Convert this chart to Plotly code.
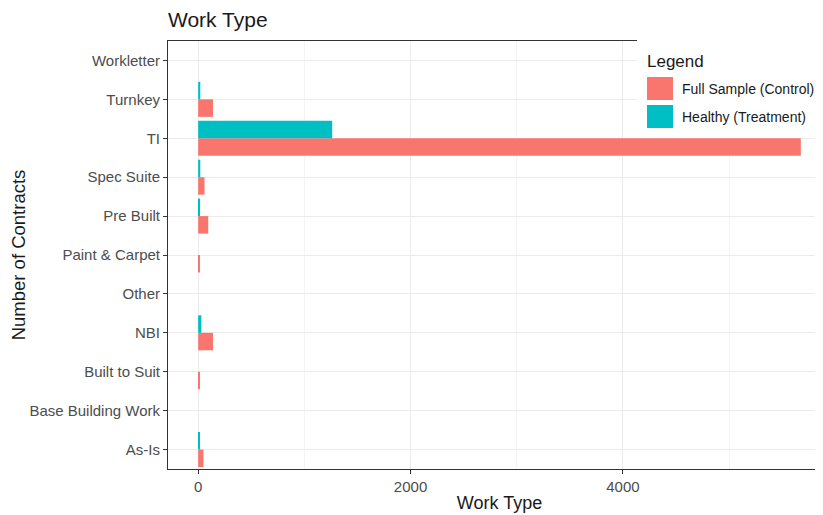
import plotly.graph_objects as go

# categories bottom -> top (as drawn)
work_types = [
    "As-Is", "Base Building Work", "Built to Suit", "NBI", "Other",
    "Paint & Carpet", "Pre Built", "Spec Suite", "TI", "Turnkey", "Workletter",
]
full_sample = [50, 0, 8, 140, 0, 8, 95, 60, 5675, 140, 0]
healthy = [12, 0, 0, 30, 0, 0, 18, 20, 1262, 20, 0]

RED = "#F8766D"
TEAL = "#00BFC4"
FONT = "Liberation Sans, Arial, sans-serif"

W, H = 823, 515
OFF = 8  # page body margin
L, R, T, B = 160, 0, 33, 54
PW, PH = W - L - R, H - T - B


def px(x):
    # screen pixel -> paper fraction
    return (x - OFF - L) / PW


def py(y):
    return (H - B - (y - OFF)) / PH


fig = go.Figure()
fig.add_trace(go.Bar(y=work_types, x=full_sample, orientation="h",
                     name="Full Sample (Control)", marker=dict(color=RED, line=dict(width=0))))
fig.add_trace(go.Bar(y=work_types, x=healthy, orientation="h",
                     name="Healthy (Treatment)", marker=dict(color=TEAL, line=dict(width=0))))

fig.update_layout(
    width=W, height=H,
    margin=dict(l=L, r=R, t=T, b=B, autoexpand=False),
    barmode="group", bargap=0.1, bargroupgap=0,
    plot_bgcolor="white", paper_bgcolor="white",
    showlegend=False,
    font=dict(family=FONT, color="#4D4D4D", size=15),
    title=dict(text="Work Type", x=px(168), xref="paper", xanchor="left",
               y=1 - (20 - OFF) / H, yanchor="middle",
               font=dict(size=21, color="#1A1A1A", family=FONT)),
)

fig.update_xaxes(
    range=[-284, 5959], tick0=0, dtick=2000,
    showgrid=True, gridcolor="#EBEBEB", gridwidth=1,
    minor=dict(dtick=1000, tick0=0, showgrid=True, gridcolor="#F4F4F4", gridwidth=1),
    zeroline=False, automargin=False,
    showline=True, linecolor="#333333", linewidth=1, mirror=True,
    ticks="outside", ticklen=4, tickcolor="#333333",
    tickfont=dict(size=15, color="#4D4D4D"),
    title=dict(text="Work Type", font=dict(size=18, color="#1A1A1A"), standoff=2),
)
fig.update_yaxes(
    categoryorder="array", categoryarray=work_types,
    showgrid=True, gridcolor="#EBEBEB", gridwidth=1,
    automargin=False,
    showline=True, linecolor="#333333", linewidth=1, mirror=True,
    ticks="outside", ticklen=4, tickcolor="#333333",
    tickfont=dict(size=15, color="#4D4D4D"),
    title=dict(text="Number of Contracts", font=dict(size=18.5, color="#1A1A1A"), standoff=3),
)

# ggplot-style legend box (large square keys)
fig.add_shape(type="rect", xref="paper", yref="paper", layer="above",
              x0=px(637), x1=px(W + 30), y0=py(137), y1=py(30),
              fillcolor="white", line=dict(width=0))
fig.add_shape(type="rect", xref="paper", yref="paper", layer="above",
              x0=px(647), x1=px(673), y0=py(100), y1=py(77),
              fillcolor=RED, line=dict(width=0))
fig.add_shape(type="rect", xref="paper", yref="paper", layer="above",
              x0=px(647), x1=px(673), y0=py(128), y1=py(105),
              fillcolor=TEAL, line=dict(width=0))
fig.add_annotation(x=px(645), y=py(61), xref="paper", yref="paper", showarrow=False,
                   xanchor="left", yanchor="middle", text="Legend",
                   font=dict(size=17, color="#1A1A1A", family=FONT))
fig.add_annotation(x=px(680), y=py(89), xref="paper", yref="paper", showarrow=False,
                   xanchor="left", yanchor="middle", text="Full Sample (Control)",
                   font=dict(size=14, color="#1A1A1A", family=FONT))
fig.add_annotation(x=px(680), y=py(117), xref="paper", yref="paper", showarrow=False,
                   xanchor="left", yanchor="middle", text="Healthy (Treatment)",
                   font=dict(size=14, color="#1A1A1A", family=FONT))

fig.write_html("out.html")
